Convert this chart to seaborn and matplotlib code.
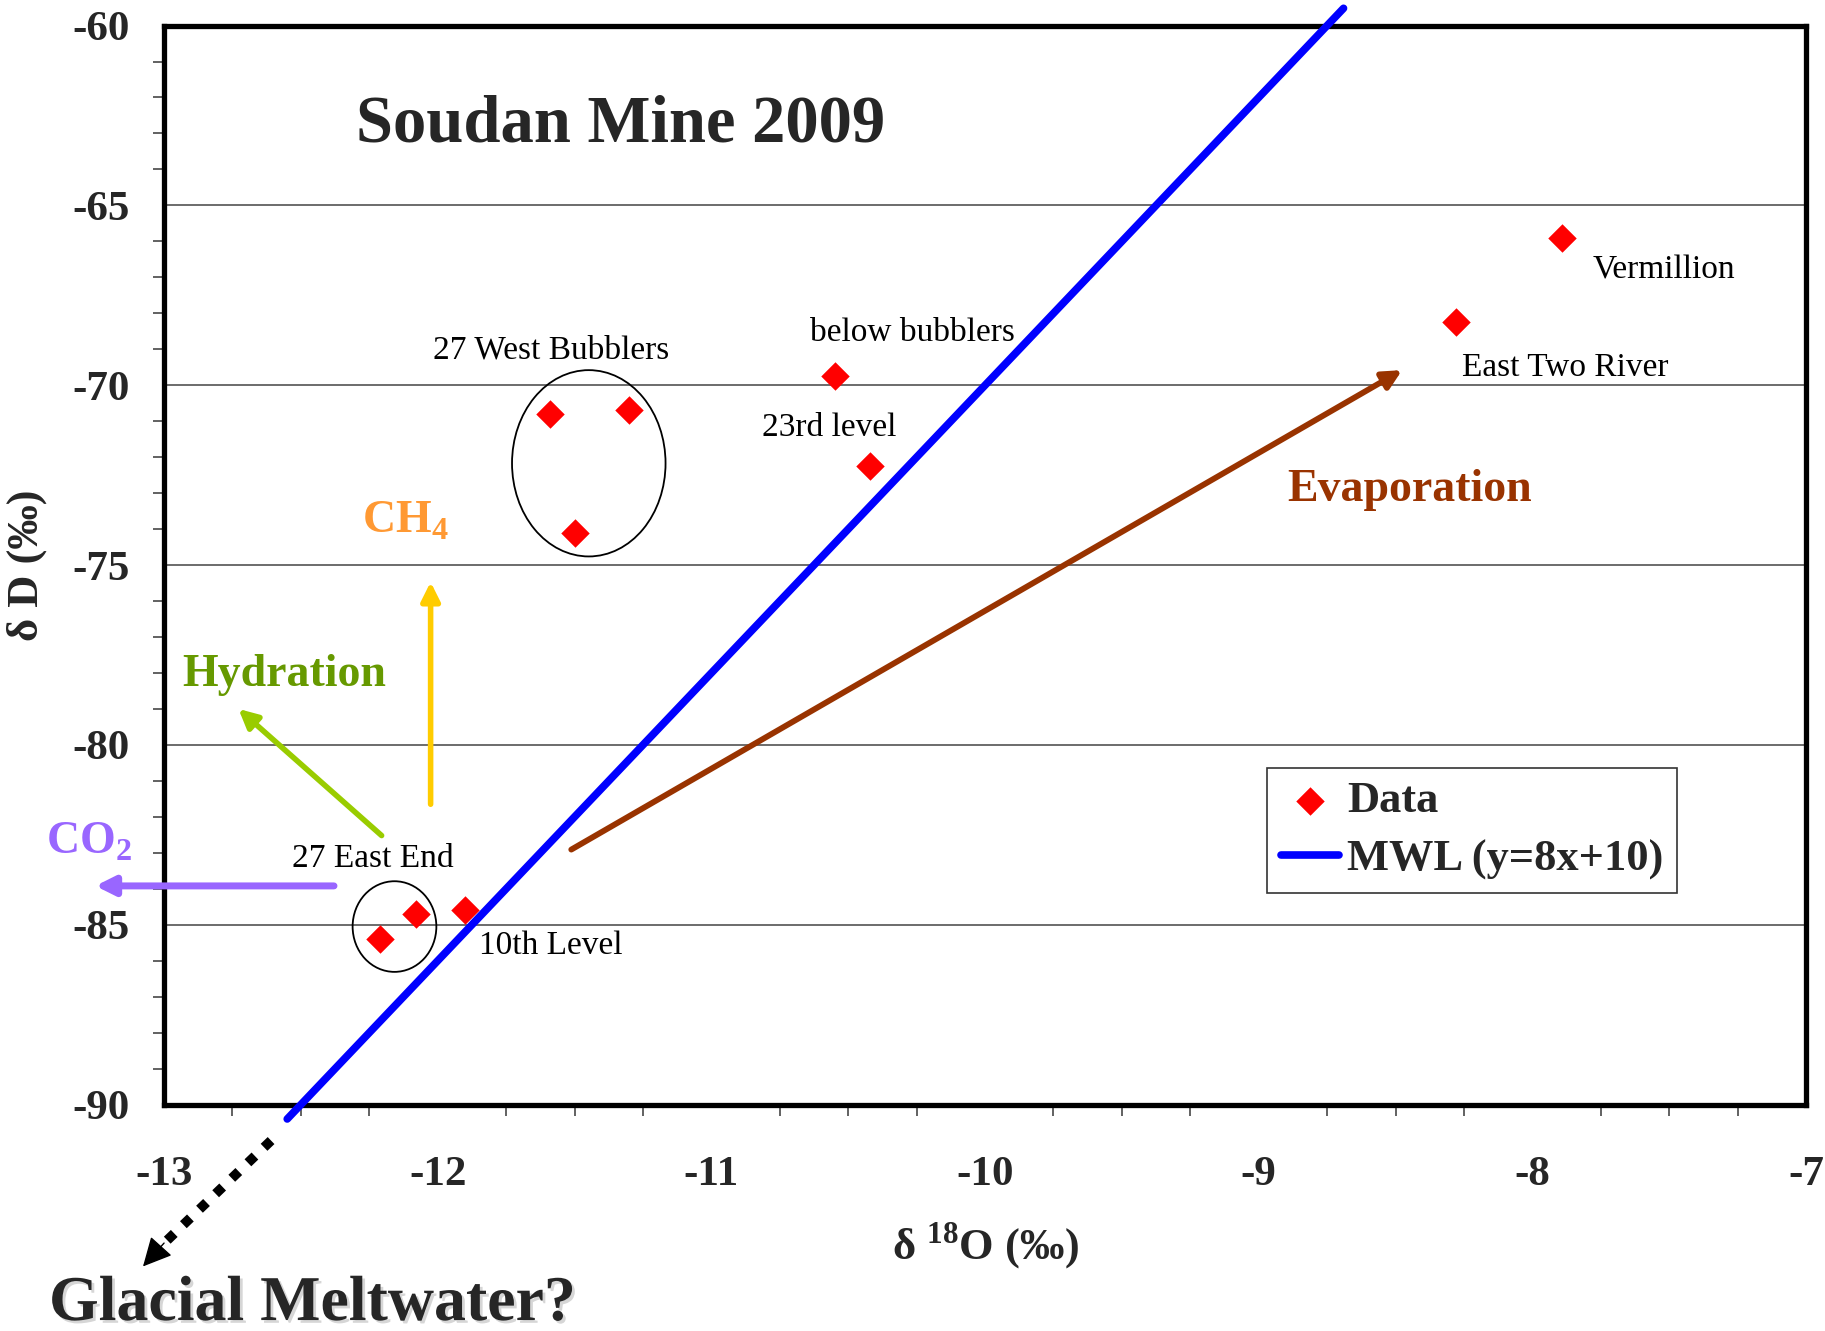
import matplotlib
matplotlib.use("Agg")
import matplotlib.pyplot as plt
import matplotlib.patheffects as pe
from matplotlib.patches import Ellipse
from matplotlib.ticker import MultipleLocator
import numpy as np
import pandas as pd
import seaborn as sns

# Sample sites and isotope values (permil)
sites = ["Vermillion", "East Two River", "below bubblers", "23rd level",
         "27 West Bubblers", "27 West Bubblers", "27 West Bubblers",
         "27 East End", "27 East End", "10th Level"]
d18O = [-7.89, -8.28, -10.55, -10.42, -11.59, -11.30, -11.50, -12.21, -12.08, -11.90]
dD = [-65.9, -68.25, -69.75, -72.25, -70.8, -70.7, -74.1, -85.4, -84.7, -84.6]

# Meteoric water line y = 8x + 10, drawn across the plot range
mwl_slope = 8
mwl_intercept = 10
mwl_x = [-12.55, -8.69]

# Site labels: text, x, y
site_labels = ["27 West Bubblers", "below bubblers", "23rd level", "Vermillion",
               "East Two River", "27 East End", "10th Level"]
site_label_x = [-11.584, -10.266, -10.568, -7.519, -7.880, -12.239, -11.588]
site_label_y = [-69.03, -68.54, -71.17, -66.80, -69.51, -83.17, -85.57]

df = pd.DataFrame({"site": sites, "d18O": d18O, "dD": dD})
mwl = pd.DataFrame({"d18O": mwl_x,
                    "dD": [mwl_slope * v + mwl_intercept for v in mwl_x]})

sns.set_style("white")
plt.rcParams["font.family"] = ["Liberation Serif", "DejaVu Serif"]
plt.rcParams["mathtext.fontset"] = "custom"
plt.rcParams["mathtext.rm"] = "Liberation Serif"
plt.rcParams["mathtext.bf"] = "Liberation Serif:bold"
plt.rcParams["axes.unicode_minus"] = False

fig = plt.figure(figsize=(18.25, 13.31), dpi=100)
ax = fig.add_axes([0.0899, 0.1701, 0.8997, 0.8107])

ax.set_xlim(-13, -7)
ax.set_ylim(-90, -60)

# horizontal gridlines
for yv in [-65, -70, -75, -80, -85]:
    ax.axhline(yv, color="#444444", lw=1.1, zorder=0)

# Meteoric water line
sns.lineplot(data=mwl, x="d18O", y="dD", ax=ax, color="#0000FF", lw=5.5,
             clip_on=False, label="MWL (y=8x+10)", zorder=3, legend=False)

# Sample points
sns.scatterplot(data=df, x="d18O", y="dD", ax=ax, marker="D", s=210,
                color="#FF0000", linewidth=0, zorder=4, label="Data", legend=False)

# Group ellipses
ax.add_patch(Ellipse((-11.448, -72.17), 0.561, 5.18, fill=False, ec="black", lw=1.3, zorder=2))
ax.add_patch(Ellipse((-12.158, -85.05), 0.306, 2.52, fill=False, ec="black", lw=1.3, zorder=2))

for t, x, y in zip(site_labels, site_label_x, site_label_y):
    ax.text(x, y, t, fontsize=24, ha="center", va="center", color="black")

# Process arrows
def arrow(start, end, color, lw=4, ms=28, ls="-"):
    ax.annotate("", xy=end, xytext=start, xycoords="data",
                arrowprops=dict(arrowstyle="-|>", color=color, lw=lw,
                                mutation_scale=ms, shrinkA=0, shrinkB=0,
                                linestyle=ls),
                annotation_clip=False, zorder=5)

arrow((-11.512, -82.91), (-8.476, -69.58), "#993300", lw=4.2)
arrow((-12.205, -82.52), (-12.728, -79.0), "#99CC00", lw=4)
arrow((-12.026, -81.65), (-12.026, -75.47), "#FFCC00", lw=4)
arrow((-12.379, -83.92), (-13.251, -83.92), "#9966FF", lw=5)

# Dotted arrow toward glacial meltwater
ax.plot([-12.609, -13.02], [-91.0, -94.0], color="black", lw=7,
        linestyle=(0, (1, 1.3)), clip_on=False, zorder=5)
arrow((-13.0, -93.85), (-13.077, -94.5), "black", lw=1, ms=45)

# Process labels
ax.text(-8.45, -72.9, "Evaporation", fontsize=33, fontweight="bold",
        color="#993300", ha="center", va="center")
ax.text(-12.562, -78.05, "Hydration", fontsize=33, fontweight="bold",
        color="#669900", ha="center", va="center")
ax.text(-12.12, -73.79, r"CH$_\mathbf{4}$", fontsize=33, fontweight="bold",
        color="#FF9933", ha="center", va="center")
ax.text(-13.276, -82.72, r"CO$_\mathbf{2}$", fontsize=33, fontweight="bold",
        color="#9966FF", ha="center", va="center", clip_on=False)

ax.text(0.278, 0.908, "Soudan Mine 2009", transform=ax.transAxes,
        fontsize=48, fontweight="bold", ha="center", va="center")

fig.text(0.171, 0.0195, "Glacial Meltwater?", fontsize=46, fontweight="bold",
         ha="center", va="center",
         path_effects=[pe.withSimplePatchShadow(offset=(2, -2),
                                                shadow_rgbFace="#999999",
                                                alpha=0.4)])

# Axes styling
ax.xaxis.set_major_locator(MultipleLocator(1))
ax.xaxis.set_minor_locator(MultipleLocator(0.25))
ax.yaxis.set_major_locator(MultipleLocator(5))
ax.yaxis.set_minor_locator(MultipleLocator(1))
ax.tick_params(axis="both", which="major", direction="out", length=11,
               width=1.3, color="#333333", labelsize=31)
ax.tick_params(axis="both", which="minor", direction="out", length=8,
               width=1.3, color="#555555")
ax.tick_params(axis="x", which="major", pad=26)
ax.tick_params(axis="y", which="major", pad=14)
ax.tick_params(axis="x", which="minor", bottom=True)
ax.tick_params(axis="y", which="minor", left=True)
for lab in ax.get_xticklabels() + ax.get_yticklabels():
    lab.set_fontweight("bold")
for sp in ax.spines.values():
    sp.set_linewidth(3.8)
    sp.set_color("black")

ax.set_xlabel(r"δ $^{\mathbf{18}}$O (‰)", fontsize=32, fontweight="bold")
ax.set_ylabel("δ D (‰)", fontsize=32, fontweight="bold")
ax.yaxis.set_label_coords(-0.071, 0.5)
ax.xaxis.set_label_coords(0.5, -0.107)

h, l = ax.get_legend_handles_labels()
order = [l.index("Data"), l.index("MWL (y=8x+10)")]
leg = ax.legend([h[i] for i in order], [l[i] for i in order],
                loc="upper left", bbox_to_anchor=(0.672, 0.312),
                prop={"weight": "bold", "size": 32}, frameon=True,
                fancybox=False, edgecolor="#333333", framealpha=1,
                borderpad=0.3, labelspacing=0.4, handlelength=1.3,
                handletextpad=0.2, borderaxespad=0)
leg.get_frame().set_linewidth(1.2)

fig.savefig("out.png", dpi=100)
